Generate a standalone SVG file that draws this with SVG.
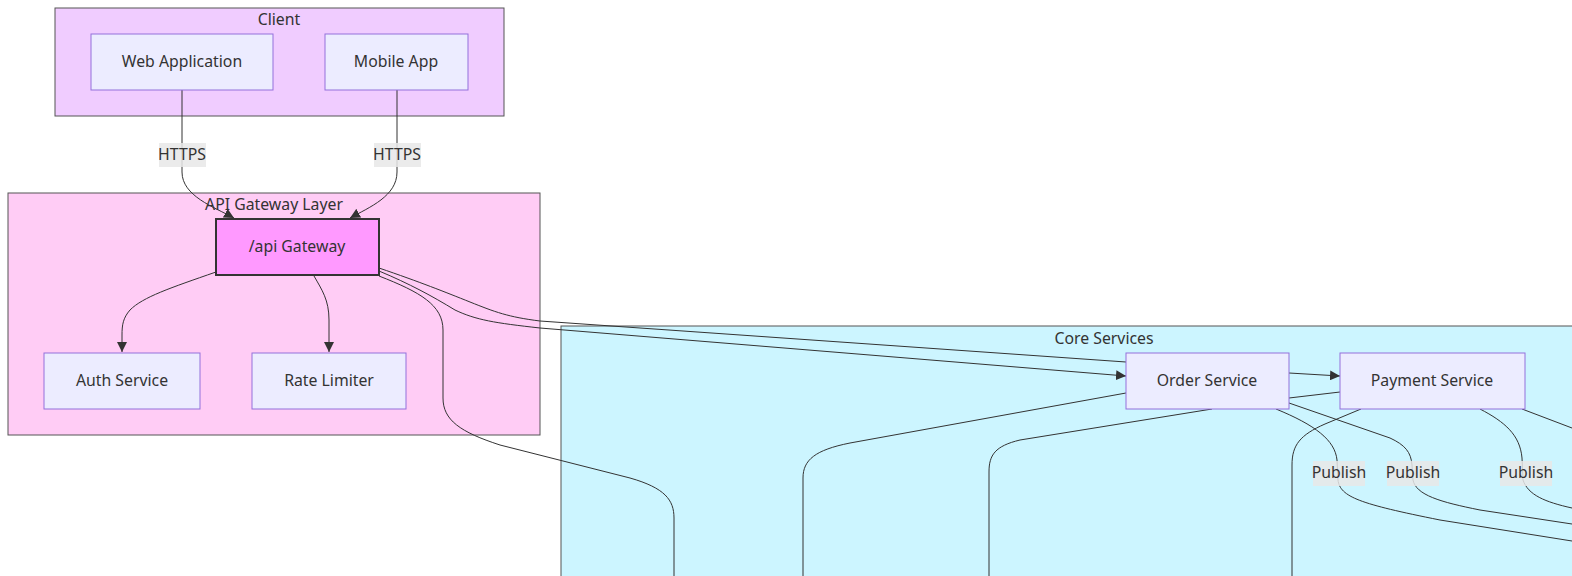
<svg xmlns="http://www.w3.org/2000/svg" width="1572" height="576" viewBox="0 0 1572 576">
<defs>
<style>
text{font-family:"Noto Sans","DejaVu Sans",sans-serif;font-size:15.8px;fill:#333;text-anchor:middle}
.cl{stroke:#555;stroke-width:1}
.node{fill:#ececff;stroke:#9370db;stroke-width:1}
.e{fill:none;stroke:#333;stroke-width:1}
.lb{fill:#e8e8e8;opacity:0.85}
</style>
<marker id="arr" viewBox="0 0 10 10" refX="10" refY="5" markerWidth="10" markerHeight="10" markerUnits="userSpaceOnUse" orient="auto">
<path d="M0,0 L10,5 L0,10 z" fill="#333"/>
</marker>
</defs>
<rect width="1572" height="576" fill="#ffffff"/>
<g id="cluster-client">
<rect class="cl" x="55" y="8" width="449" height="108" fill="#f0ccff"/>
<text x="279" y="25">Client</text>
</g>
<g id="cluster-gateway">
<rect class="cl" x="8" y="193" width="532" height="242" fill="#ffccf5"/>
<text x="274" y="210">API Gateway Layer</text>
</g>
<g id="cluster-core">
<rect class="cl" x="561" y="326" width="1020" height="260" fill="#ccf5ff"/>
<text x="1104" y="344">Core Services</text>
</g>
<g id="connectors">
<path class="e" d="M182,90 L182,172 C182,196 214,207 234,218" marker-end="url(#arr)"/>
<path class="e" d="M397,90 L397,172 C397,196 370,207 350,218" marker-end="url(#arr)"/>
<path class="e" d="M216,272 C170,288 143,297 130,310 C123,318 122,325 122,335 L122,352" marker-end="url(#arr)"/>
<path class="e" d="M314,276 C322,290 329,300 329,320 L329,352" marker-end="url(#arr)"/>
<path class="e" d="M379,268 C420,282 445,292 470,302 C495,312 508,317 540,321 L1126,362"/>
<path class="e" d="M379,271 C410,284 432,296 455,310 C476,320 495,323 540,328 L1126,376" marker-end="url(#arr)"/>
<path class="e" d="M379,276 C420,292 443,305 443,330 L443,398 C443,420 460,432 500,445 L630,478 C665,488 674,500 674,518 L674,576"/>
<path class="e" d="M1289,373 L1340,376" marker-end="url(#arr)"/>
<path class="e" d="M1289,398 L1340,392"/>
<path class="e" d="M1126,393 L850,443 C815,450 803,460 803,478 L803,576"/>
<path class="e" d="M1212,409 L1020,440 C995,446 989,455 989,472 L989,576"/>
<path class="e" d="M1361,409 L1325,424 C1300,435 1292,445 1292,465 L1292,576"/>
<path class="e" d="M1276,409 C1315,425 1335,440 1337,460 L1338,480 C1340,497 1360,504 1440,520 L1572,541"/>
<path class="e" d="M1289,403 L1390,438 C1405,445 1411,452 1412,465 L1413,480 C1416,495 1440,502 1480,510 L1572,524"/>
<path class="e" d="M1480,409 C1505,422 1520,435 1522,458 L1523,480 C1528,495 1545,502 1572,508"/>
<path class="e" d="M1522,409 L1572,428"/>
<rect class="lb" x="159" y="143" width="47" height="24"/>
<text x="182" y="160">HTTPS</text>
<rect class="lb" x="374" y="143" width="47" height="24"/>
<text x="397" y="160">HTTPS</text>
<rect class="lb" x="1313" y="461" width="52" height="25"/>
<text x="1339" y="478">Publish</text>
<rect class="lb" x="1387" y="461" width="52" height="25"/>
<text x="1413" y="478">Publish</text>
<rect class="lb" x="1500" y="461" width="52" height="25"/>
<text x="1526" y="478">Publish</text>
</g>
<g id="node-web">
<rect class="node" x="91" y="34" width="182" height="56"/>
<text x="182" y="67">Web Application</text>
</g>
<g id="node-mobile">
<rect class="node" x="325" y="34" width="143" height="56"/>
<text x="396" y="67">Mobile App</text>
</g>
<g id="node-gateway">
<rect x="216" y="219" width="163" height="56" fill="#ff99ff" stroke="#333" stroke-width="2"/>
<text x="297" y="252">/api Gateway</text>
</g>
<g id="node-auth">
<rect class="node" x="44" y="353" width="156" height="56"/>
<text x="122" y="386">Auth Service</text>
</g>
<g id="node-rate">
<rect class="node" x="252" y="353" width="154" height="56"/>
<text x="329" y="386">Rate Limiter</text>
</g>
<g id="node-order">
<rect class="node" x="1126" y="353" width="163" height="56"/>
<text x="1207" y="386">Order Service</text>
</g>
<g id="node-payment">
<rect class="node" x="1340" y="353" width="185" height="56"/>
<text x="1432" y="386">Payment Service</text>
</g>
</svg>
